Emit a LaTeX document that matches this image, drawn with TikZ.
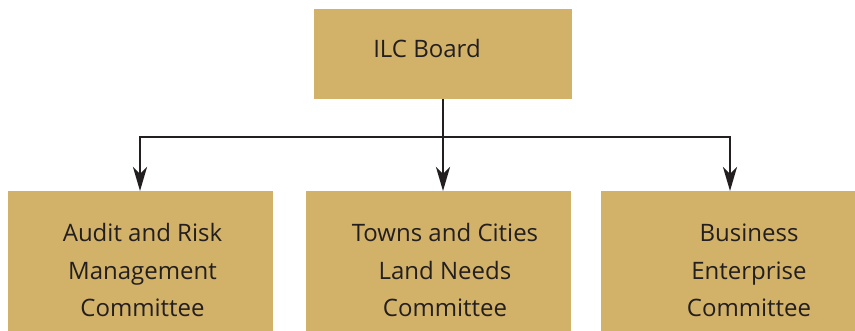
\documentclass[tikz,border=0pt]{standalone}
\usepackage{fontspec}
\setmainfont{Open Sans}
\usetikzlibrary{arrows.meta}
\definecolor{boxtan}{RGB}{210,177,104}
\definecolor{ink}{RGB}{35,31,32}
\tikzset{
  orgbox/.style={draw=none, fill=boxtan, rectangle, inner sep=0pt},
  toplabel/.style={text=ink, font=\fontsize{24}{28}\selectfont, inner sep=0pt},
  sublabel/.style={text=ink, align=center, font=\fontsize{24}{37.5}\selectfont, inner sep=0pt},
  conn/.style={draw=ink, line width=2.8pt},
  tip/.style={-{Stealth[length=24pt, width=14pt, inset=7pt]}}
}
\begin{document}
\begin{tikzpicture}[x=1pt, y=-1pt]
  \useasboundingbox (0,0) rectangle (855,331);
  % boxes
  \node[orgbox, minimum width=258pt, minimum height=90pt] (board) at (443,54) {};
  \node[orgbox, minimum width=265pt, minimum height=140pt] (audit) at (140.5,261) {};
  \node[orgbox, minimum width=265pt, minimum height=140pt] (towns) at (438.5,261) {};
  \node[orgbox, minimum width=254pt, minimum height=140pt] (business) at (728,261) {};
  % labels
  \node[toplabel] (boardtxt) at (427,49) {ILC Board};
  \node[sublabel] (audittxt) at (142.5,270.5) {Audit and Risk\\Management\\Committee};
  \node[sublabel] (townstxt) at (445,270.5) {Towns and Cities\\Land Needs\\Committee};
  \node[sublabel] (businesstxt) at (749,270.5) {Business\\Enterprise\\Committee};
  % connectors
  \coordinate (bus) at (443,137);
  \coordinate (auditin) at (140,191);
  \coordinate (townsin) at (443,191);
  \coordinate (businessin) at (730,191);
  \draw[conn] (board.south) -- (bus);
  \draw[conn, tip] (bus) -| (auditin);
  \draw[conn, tip] (bus) -- (townsin);
  \draw[conn, tip] (bus) -| (businessin);
\end{tikzpicture}
\end{document}
